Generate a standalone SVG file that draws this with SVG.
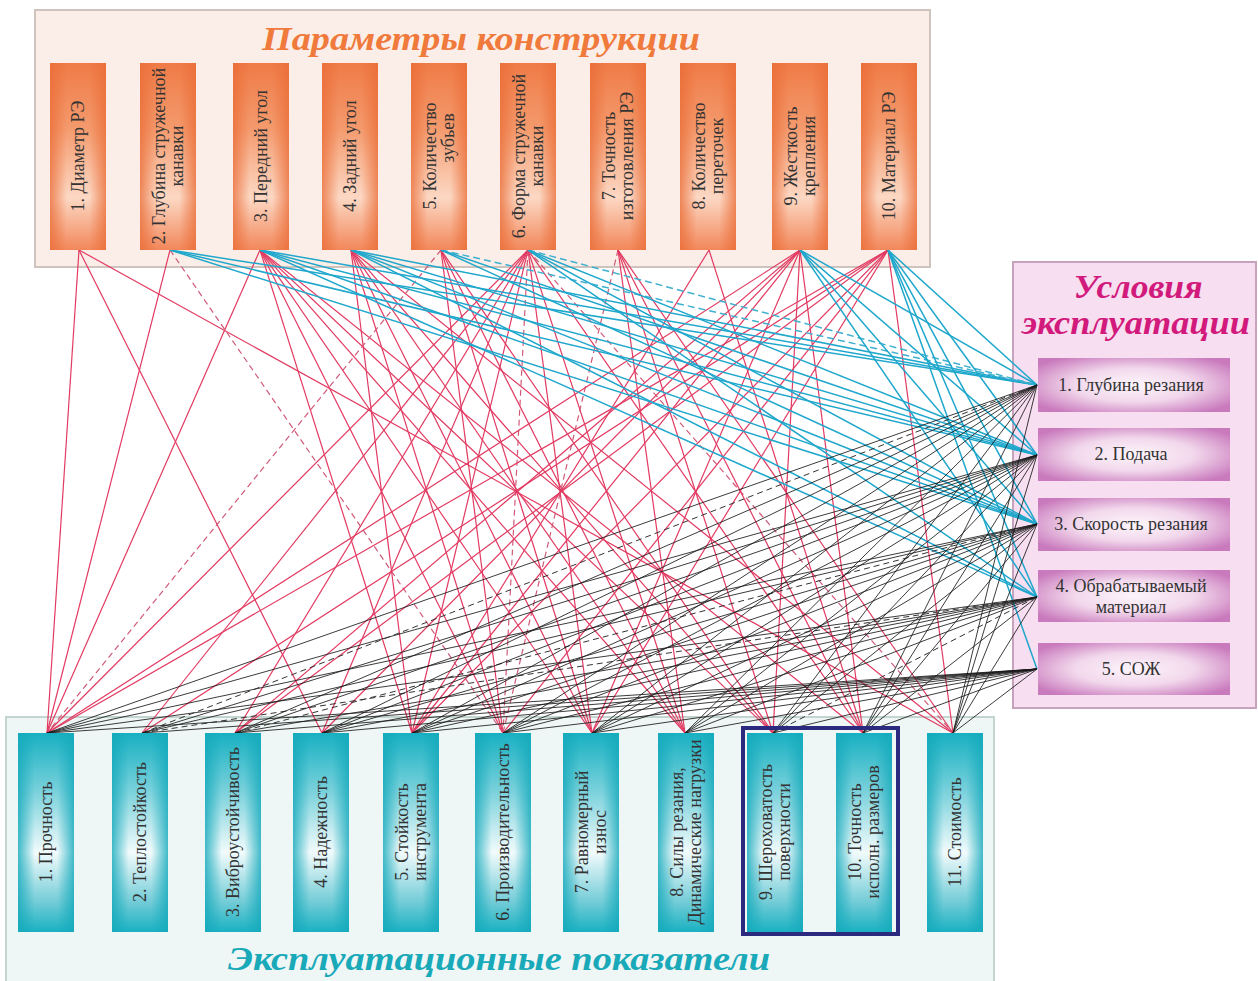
<svg xmlns="http://www.w3.org/2000/svg" width="1258" height="981" viewBox="0 0 1258 981">
<defs>
  <linearGradient id="gOrange" x1="0" y1="0" x2="0" y2="1">
    <stop offset="0" stop-color="#ef7b47"/>
    <stop offset="0.35" stop-color="#f49a6d"/>
    <stop offset="0.72" stop-color="#fcd8c4"/>
    <stop offset="1" stop-color="#f2875a"/>
  </linearGradient>
  <linearGradient id="gOrangeSide" x1="0" y1="0" x2="1" y2="0">
    <stop offset="0" stop-color="#ea6c36" stop-opacity="0.75"/>
    <stop offset="0.3" stop-color="#ea6c36" stop-opacity="0"/>
    <stop offset="0.7" stop-color="#ea6c36" stop-opacity="0"/>
    <stop offset="1" stop-color="#ea6c36" stop-opacity="0.75"/>
  </linearGradient>
  <linearGradient id="gCyan" x1="0" y1="0" x2="0" y2="1">
    <stop offset="0" stop-color="#17b0c2"/>
    <stop offset="0.3" stop-color="#7cd2dc"/>
    <stop offset="0.6" stop-color="#f2fbfc"/>
    <stop offset="0.85" stop-color="#72ccd7"/>
    <stop offset="1" stop-color="#19b1c2"/>
  </linearGradient>
  <linearGradient id="gCyanSide" x1="0" y1="0" x2="1" y2="0">
    <stop offset="0" stop-color="#14a9bb" stop-opacity="0.8"/>
    <stop offset="0.3" stop-color="#14a9bb" stop-opacity="0"/>
    <stop offset="0.7" stop-color="#14a9bb" stop-opacity="0"/>
    <stop offset="1" stop-color="#14a9bb" stop-opacity="0.8"/>
  </linearGradient>
  <radialGradient id="gPink" cx="0.5" cy="0.5" r="0.62">
    <stop offset="0" stop-color="#fdf5fb"/>
    <stop offset="0.5" stop-color="#f2d8ec"/>
    <stop offset="1" stop-color="#c97abd"/>
  </radialGradient>
  <style>
    .lbl { font-family: "Liberation Serif", "Times New Roman", serif; font-size: 18px; fill: #333; text-anchor: middle; }
    .ttl { font-family: "Liberation Serif", "Times New Roman", serif; font-size: 34px; font-weight: bold; font-style: italic; text-anchor: middle; }
    .r  { stroke: #e23a62; stroke-width: 1.2; fill: none; }
    .rd { stroke: #d05a78; stroke-width: 1.2; fill: none; stroke-dasharray: 6 4; }
    .c  { stroke: #1fa7cc; stroke-width: 1.5; fill: none; }
    .cd { stroke: #3fb0cf; stroke-width: 1.5; fill: none; stroke-dasharray: 7 4; }
    .k  { stroke: #1a1a1a; stroke-width: 1; fill: none; stroke-opacity: 0.85; }
    .kd { stroke: #333; stroke-width: 1; fill: none; stroke-dasharray: 6 4; }
    .side-o { fill: url(#gOrangeSide); }
    .side-c { fill: url(#gCyanSide); }
  </style>
</defs>

<rect width="1258" height="981" fill="#ffffff"/>

<!-- panels -->
<g id="panel-construction">
  <rect x="35" y="10" width="895" height="257" fill="#fbeee8" stroke="#cfc3bd" stroke-width="2"/>
  <text class="ttl" x="481" y="50" fill="#f07a3c" textLength="438" lengthAdjust="spacingAndGlyphs">Параметры конструкции</text>
</g>
<g id="panel-conditions">
  <rect x="1013" y="262" width="243" height="446" fill="#f7def0" stroke="#c6a2bd" stroke-width="2"/>
  <text class="ttl" x="1138" y="298" fill="#d21a7c" textLength="129" lengthAdjust="spacingAndGlyphs">Условия</text>
  <text class="ttl" x="1136" y="334" fill="#d21a7c" textLength="228" lengthAdjust="spacingAndGlyphs">эксплуатации</text>
</g>
<g id="panel-indicators">
  <rect x="6" y="717" width="988" height="272" fill="#eef7f5" stroke="#c3d4d1" stroke-width="2"/>
  <text class="ttl" x="499" y="970" fill="#19a9b9" textLength="542" lengthAdjust="spacingAndGlyphs">Эксплуатационные показатели</text>
</g>

<!-- connectors -->
<g id="connectors">
  <!-- construction parameters -> performance indicators -->
  <line class="r" x1="79" y1="250" x2="47" y2="733"/>
  <line class="r" x1="79" y1="250" x2="322" y2="733"/>
  <line class="r" x1="79" y1="250" x2="953" y2="733"/>
  <line class="r" x1="170" y1="250" x2="47" y2="733"/>
  <line class="rd" x1="170" y1="250" x2="503" y2="733"/>
  <line class="r" x1="260" y1="250" x2="47" y2="733"/>
  <line class="r" x1="260" y1="250" x2="412" y2="733"/>
  <line class="r" x1="260" y1="250" x2="503" y2="733"/>
  <line class="r" x1="260" y1="250" x2="592" y2="733"/>
  <line class="r" x1="260" y1="250" x2="685" y2="733"/>
  <line class="r" x1="260" y1="250" x2="773" y2="733"/>
  <line class="r" x1="260" y1="250" x2="863" y2="733"/>
  <line class="r" x1="351" y1="250" x2="412" y2="733"/>
  <line class="r" x1="351" y1="250" x2="503" y2="733"/>
  <line class="r" x1="351" y1="250" x2="592" y2="733"/>
  <line class="r" x1="351" y1="250" x2="685" y2="733"/>
  <line class="r" x1="351" y1="250" x2="773" y2="733"/>
  <line class="r" x1="351" y1="250" x2="953" y2="733"/>
  <line class="rd" x1="441" y1="250" x2="47" y2="733"/>
  <line class="r" x1="441" y1="250" x2="503" y2="733"/>
  <line class="r" x1="441" y1="250" x2="592" y2="733"/>
  <line class="r" x1="441" y1="250" x2="685" y2="733"/>
  <line class="r" x1="441" y1="250" x2="773" y2="733"/>
  <line class="r" x1="528" y1="250" x2="47" y2="733"/>
  <line class="r" x1="528" y1="250" x2="142" y2="733"/>
  <line class="r" x1="528" y1="250" x2="235" y2="733"/>
  <line class="r" x1="528" y1="250" x2="322" y2="733"/>
  <line class="r" x1="528" y1="250" x2="412" y2="733"/>
  <line class="rd" x1="528" y1="250" x2="503" y2="733"/>
  <line class="r" x1="528" y1="250" x2="592" y2="733"/>
  <line class="r" x1="528" y1="250" x2="685" y2="733"/>
  <line class="r" x1="528" y1="250" x2="863" y2="733"/>
  <line class="rd" x1="528" y1="250" x2="953" y2="733"/>
  <line class="rd" x1="618" y1="250" x2="503" y2="733"/>
  <line class="r" x1="618" y1="250" x2="685" y2="733"/>
  <line class="r" x1="618" y1="250" x2="773" y2="733"/>
  <line class="r" x1="618" y1="250" x2="863" y2="733"/>
  <line class="r" x1="618" y1="250" x2="953" y2="733"/>
  <line class="r" x1="709" y1="250" x2="412" y2="733"/>
  <line class="r" x1="709" y1="250" x2="863" y2="733"/>
  <line class="r" x1="800" y1="250" x2="47" y2="733"/>
  <line class="r" x1="800" y1="250" x2="235" y2="733"/>
  <line class="r" x1="800" y1="250" x2="322" y2="733"/>
  <line class="r" x1="800" y1="250" x2="412" y2="733"/>
  <line class="r" x1="800" y1="250" x2="592" y2="733"/>
  <line class="r" x1="800" y1="250" x2="773" y2="733"/>
  <line class="r" x1="800" y1="250" x2="863" y2="733"/>
  <line class="r" x1="888" y1="250" x2="47" y2="733"/>
  <line class="r" x1="888" y1="250" x2="142" y2="733"/>
  <line class="r" x1="888" y1="250" x2="235" y2="733"/>
  <line class="r" x1="888" y1="250" x2="412" y2="733"/>
  <line class="r" x1="888" y1="250" x2="503" y2="733"/>
  <line class="r" x1="888" y1="250" x2="592" y2="733"/>
  <line class="r" x1="888" y1="250" x2="953" y2="733"/>

  <!-- construction parameters -> operating conditions -->
  <line class="c" x1="170" y1="250" x2="1037" y2="385"/>
  <line class="c" x1="170" y1="250" x2="1037" y2="455"/>
  <line class="c" x1="170" y1="250" x2="1037" y2="524"/>
  <line class="c" x1="260" y1="250" x2="1037" y2="385"/>
  <line class="c" x1="260" y1="250" x2="1037" y2="455"/>
  <line class="c" x1="260" y1="250" x2="1037" y2="524"/>
  <line class="c" x1="260" y1="250" x2="1037" y2="597"/>
  <line class="c" x1="351" y1="250" x2="1037" y2="385"/>
  <line class="c" x1="351" y1="250" x2="1037" y2="455"/>
  <line class="c" x1="351" y1="250" x2="1037" y2="524"/>
  <line class="c" x1="351" y1="250" x2="1037" y2="597"/>
  <line class="cd" x1="441" y1="250" x2="1037" y2="385"/>
  <line class="c" x1="441" y1="250" x2="1037" y2="455"/>
  <line class="c" x1="441" y1="250" x2="1037" y2="524"/>
  <line class="cd" x1="528" y1="250" x2="1037" y2="385"/>
  <line class="c" x1="528" y1="250" x2="1037" y2="455"/>
  <line class="c" x1="528" y1="250" x2="1037" y2="524"/>
  <line class="c" x1="528" y1="250" x2="1037" y2="597"/>
  <line class="c" x1="800" y1="250" x2="1037" y2="385"/>
  <line class="c" x1="800" y1="250" x2="1037" y2="455"/>
  <line class="c" x1="800" y1="250" x2="1037" y2="524"/>
  <line class="c" x1="800" y1="250" x2="1037" y2="597"/>
  <line class="c" x1="888" y1="250" x2="1037" y2="385"/>
  <line class="c" x1="888" y1="250" x2="1037" y2="455"/>
  <line class="c" x1="888" y1="250" x2="1037" y2="524"/>
  <line class="c" x1="888" y1="250" x2="1037" y2="597"/>
  <line class="c" x1="888" y1="250" x2="1037" y2="669"/>

  <!-- performance indicators -> operating conditions -->
  <line class="k" x1="47" y1="733" x2="1037" y2="385"/>
  <line class="k" x1="47" y1="733" x2="1037" y2="455"/>
  <line class="k" x1="47" y1="733" x2="1037" y2="524"/>
  <line class="k" x1="47" y1="733" x2="1037" y2="597"/>
  <line class="k" x1="47" y1="733" x2="1037" y2="669"/>
  <line class="kd" x1="142" y1="733" x2="1037" y2="385"/>
  <line class="k" x1="142" y1="733" x2="1037" y2="455"/>
  <line class="k" x1="142" y1="733" x2="1037" y2="524"/>
  <line class="kd" x1="142" y1="733" x2="1037" y2="597"/>
  <line class="k" x1="142" y1="733" x2="1037" y2="669"/>
  <line class="k" x1="235" y1="733" x2="1037" y2="385"/>
  <line class="k" x1="235" y1="733" x2="1037" y2="455"/>
  <line class="kd" x1="235" y1="733" x2="1037" y2="524"/>
  <line class="k" x1="235" y1="733" x2="1037" y2="597"/>
  <line class="k" x1="235" y1="733" x2="1037" y2="669"/>
  <line class="k" x1="322" y1="733" x2="1037" y2="385"/>
  <line class="k" x1="322" y1="733" x2="1037" y2="455"/>
  <line class="k" x1="322" y1="733" x2="1037" y2="524"/>
  <line class="k" x1="322" y1="733" x2="1037" y2="597"/>
  <line class="k" x1="322" y1="733" x2="1037" y2="669"/>
  <line class="k" x1="412" y1="733" x2="1037" y2="385"/>
  <line class="k" x1="412" y1="733" x2="1037" y2="455"/>
  <line class="k" x1="412" y1="733" x2="1037" y2="524"/>
  <line class="k" x1="412" y1="733" x2="1037" y2="597"/>
  <line class="k" x1="412" y1="733" x2="1037" y2="669"/>
  <line class="k" x1="503" y1="733" x2="1037" y2="385"/>
  <line class="k" x1="503" y1="733" x2="1037" y2="455"/>
  <line class="k" x1="503" y1="733" x2="1037" y2="524"/>
  <line class="k" x1="503" y1="733" x2="1037" y2="597"/>
  <line class="k" x1="503" y1="733" x2="1037" y2="669"/>
  <line class="k" x1="592" y1="733" x2="1037" y2="385"/>
  <line class="k" x1="592" y1="733" x2="1037" y2="455"/>
  <line class="k" x1="592" y1="733" x2="1037" y2="524"/>
  <line class="k" x1="592" y1="733" x2="1037" y2="597"/>
  <line class="k" x1="592" y1="733" x2="1037" y2="669"/>
  <line class="k" x1="685" y1="733" x2="1037" y2="385"/>
  <line class="k" x1="685" y1="733" x2="1037" y2="455"/>
  <line class="k" x1="685" y1="733" x2="1037" y2="524"/>
  <line class="k" x1="685" y1="733" x2="1037" y2="597"/>
  <line class="k" x1="685" y1="733" x2="1037" y2="669"/>
  <line class="k" x1="773" y1="733" x2="1037" y2="385"/>
  <line class="k" x1="773" y1="733" x2="1037" y2="455"/>
  <line class="k" x1="773" y1="733" x2="1037" y2="524"/>
  <line class="kd" x1="773" y1="733" x2="1037" y2="597"/>
  <line class="k" x1="773" y1="733" x2="1037" y2="669"/>
  <line class="k" x1="863" y1="733" x2="1037" y2="385"/>
  <line class="k" x1="863" y1="733" x2="1037" y2="455"/>
  <line class="k" x1="863" y1="733" x2="1037" y2="524"/>
  <line class="k" x1="863" y1="733" x2="1037" y2="597"/>
  <line class="k" x1="863" y1="733" x2="1037" y2="669"/>
  <line class="k" x1="953" y1="733" x2="1037" y2="385"/>
  <line class="k" x1="953" y1="733" x2="1037" y2="455"/>
  <line class="k" x1="953" y1="733" x2="1037" y2="524"/>
  <line class="k" x1="953" y1="733" x2="1037" y2="597"/>
  <line class="k" x1="953" y1="733" x2="1037" y2="669"/>
</g>

<!-- construction parameters -->
<g id="t1"><rect x="50" y="63" width="56" height="187" fill="url(#gOrange)"/><rect class="side-o" x="50" y="63" width="56" height="187"/>
  <text class="lbl" transform="translate(78,156) rotate(-90)" y="6">1. Диаметр РЭ</text></g>
<g id="t2"><rect x="140" y="63" width="56" height="187" fill="url(#gOrange)"/><rect class="side-o" x="140" y="63" width="56" height="187"/>
  <text class="lbl" transform="translate(168,156) rotate(-90)"><tspan x="0" y="-3">2. Глубина стружечной</tspan><tspan x="0" y="15">канавки</tspan></text></g>
<g id="t3"><rect x="233" y="63" width="56" height="187" fill="url(#gOrange)"/><rect class="side-o" x="233" y="63" width="56" height="187"/>
  <text class="lbl" transform="translate(261,156) rotate(-90)" y="6">3. Передний угол</text></g>
<g id="t4"><rect x="322" y="63" width="56" height="187" fill="url(#gOrange)"/><rect class="side-o" x="322" y="63" width="56" height="187"/>
  <text class="lbl" transform="translate(350,156) rotate(-90)" y="6">4. Задний угол</text></g>
<g id="t5"><rect x="411" y="63" width="56" height="187" fill="url(#gOrange)"/><rect class="side-o" x="411" y="63" width="56" height="187"/>
  <text class="lbl" transform="translate(439,156) rotate(-90)"><tspan x="0" y="-3">5. Количество</tspan><tspan x="18" y="15">зубьев</tspan></text></g>
<g id="t6"><rect x="500" y="63" width="56" height="187" fill="url(#gOrange)"/><rect class="side-o" x="500" y="63" width="56" height="187"/>
  <text class="lbl" transform="translate(528,156) rotate(-90)"><tspan x="0" y="-3">6. Форма стружечной</tspan><tspan x="0" y="15">канавки</tspan></text></g>
<g id="t7"><rect x="590" y="63" width="56" height="187" fill="url(#gOrange)"/><rect class="side-o" x="590" y="63" width="56" height="187"/>
  <text class="lbl" transform="translate(618,156) rotate(-90)"><tspan x="0" y="-3">7. Точность</tspan><tspan x="0" y="15">изготовления РЭ</tspan></text></g>
<g id="t8"><rect x="680" y="63" width="56" height="187" fill="url(#gOrange)"/><rect class="side-o" x="680" y="63" width="56" height="187"/>
  <text class="lbl" transform="translate(708,156) rotate(-90)"><tspan x="0" y="-3">8. Количество</tspan><tspan x="0" y="15">переточек</tspan></text></g>
<g id="t9"><rect x="772" y="63" width="56" height="187" fill="url(#gOrange)"/><rect class="side-o" x="772" y="63" width="56" height="187"/>
  <text class="lbl" transform="translate(800,156) rotate(-90)"><tspan x="0" y="-3">9. Жесткость</tspan><tspan x="0" y="15">крепления</tspan></text></g>
<g id="t10"><rect x="861" y="63" width="56" height="187" fill="url(#gOrange)"/><rect class="side-o" x="861" y="63" width="56" height="187"/>
  <text class="lbl" transform="translate(889,156) rotate(-90)" y="6">10. Материал РЭ</text></g>

<!-- operating conditions -->
<g id="r1"><rect x="1038" y="358" width="192" height="54" fill="url(#gPink)"/>
  <text class="lbl" x="1131" y="391">1. Глубина резания</text></g>
<g id="r2"><rect x="1038" y="428" width="192" height="53" fill="url(#gPink)"/>
  <text class="lbl" x="1131" y="460">2. Подача</text></g>
<g id="r3"><rect x="1038" y="498" width="192" height="53" fill="url(#gPink)"/>
  <text class="lbl" x="1131" y="530">3. Скорость резания</text></g>
<g id="r4"><rect x="1038" y="570" width="192" height="52" fill="url(#gPink)"/>
  <text class="lbl" x="1131" y="592">4. Обрабатываемый</text><text class="lbl" x="1131" y="613">материал</text></g>
<g id="r5"><rect x="1038" y="643" width="192" height="52" fill="url(#gPink)"/>
  <text class="lbl" x="1131" y="675">5. СОЖ</text></g>

<!-- performance indicators -->
<g id="b1"><rect x="18" y="733" width="56" height="199" fill="url(#gCyan)"/><rect class="side-c" x="18" y="733" width="56" height="199"/>
  <text class="lbl" transform="translate(46,832) rotate(-90)" y="6">1. Прочность</text></g>
<g id="b2"><rect x="112" y="733" width="56" height="199" fill="url(#gCyan)"/><rect class="side-c" x="112" y="733" width="56" height="199"/>
  <text class="lbl" transform="translate(140,832) rotate(-90)" y="6">2. Теплостойкость</text></g>
<g id="b3"><rect x="205" y="733" width="56" height="199" fill="url(#gCyan)"/><rect class="side-c" x="205" y="733" width="56" height="199"/>
  <text class="lbl" transform="translate(233,832) rotate(-90)" y="6">3. Виброустойчивость</text></g>
<g id="b4"><rect x="293" y="733" width="56" height="199" fill="url(#gCyan)"/><rect class="side-c" x="293" y="733" width="56" height="199"/>
  <text class="lbl" transform="translate(321,832) rotate(-90)" y="6">4. Надежность</text></g>
<g id="b5"><rect x="383" y="733" width="56" height="199" fill="url(#gCyan)"/><rect class="side-c" x="383" y="733" width="56" height="199"/>
  <text class="lbl" transform="translate(411,832) rotate(-90)"><tspan x="0" y="-3">5. Стойкость</tspan><tspan x="0" y="15">инструмента</tspan></text></g>
<g id="b6"><rect x="475" y="733" width="56" height="199" fill="url(#gCyan)"/><rect class="side-c" x="475" y="733" width="56" height="199"/>
  <text class="lbl" transform="translate(503,832) rotate(-90)" y="6">6. Производительность</text></g>
<g id="b7"><rect x="563" y="733" width="56" height="199" fill="url(#gCyan)"/><rect class="side-c" x="563" y="733" width="56" height="199"/>
  <text class="lbl" transform="translate(591,832) rotate(-90)"><tspan x="0" y="-3">7. Равномерный</tspan><tspan x="0" y="15">износ</tspan></text></g>
<g id="b8"><rect x="658" y="733" width="56" height="199" fill="url(#gCyan)"/><rect class="side-c" x="658" y="733" width="56" height="199"/>
  <text class="lbl" transform="translate(686,832) rotate(-90)"><tspan x="0" y="-3">8. Силы резания,</tspan><tspan x="0" y="15">Динамические нагрузки</tspan></text></g>
<g id="b9"><rect x="747" y="733" width="56" height="199" fill="url(#gCyan)"/><rect class="side-c" x="747" y="733" width="56" height="199"/>
  <text class="lbl" transform="translate(775,832) rotate(-90)"><tspan x="0" y="-3">9. Шероховатость</tspan><tspan x="0" y="15">поверхности</tspan></text></g>
<g id="b10"><rect x="836" y="733" width="56" height="199" fill="url(#gCyan)"/><rect class="side-c" x="836" y="733" width="56" height="199"/>
  <text class="lbl" transform="translate(864,832) rotate(-90)"><tspan x="0" y="-3">10. Точность</tspan><tspan x="0" y="15">исполн. размеров</tspan></text></g>
<g id="b11"><rect x="927" y="733" width="56" height="199" fill="url(#gCyan)"/><rect class="side-c" x="927" y="733" width="56" height="199"/>
  <text class="lbl" transform="translate(955,832) rotate(-90)" y="6">11. Стоимость</text></g>

<!-- grouping frame for surface quality indicators -->
<g id="frame-9-10">
  <rect x="743" y="728" width="155" height="206" fill="none" stroke="#2b2a7e" stroke-width="4"/>
</g>
</svg>
